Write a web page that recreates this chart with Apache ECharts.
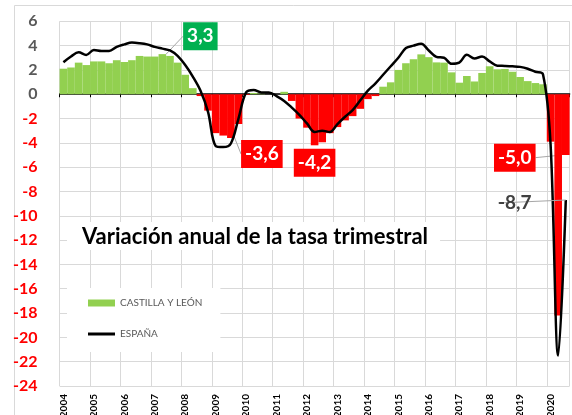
<!DOCTYPE html>
<html>
<head>
<meta charset="utf-8">
<script src="https://cdn.jsdelivr.net/npm/echarts@6/dist/echarts.min.js"></script>
<style>
  html, body { margin: 0; padding: 0; background: #fff; }
  #chart { width: 572px; height: 415px; }
</style>
</head>
<body>
<div id="chart"></div>
<script>
  // datos trimestrales 2004T1 - 2020T3
  var years = ['2004', '2005', '2006', '2007', '2008', '2009', '2010', '2011', '2012',
    '2013', '2014', '2015', '2016', '2017', '2018', '2019', '2020'];
  var quarters = ['T1', 'T2', 'T3', 'T4'];

  // Castilla y León (barras)
  var clyValues = [
    2.1, 2.2, 2.6, 2.4,
    2.7, 2.7, 2.55, 2.8,
    2.65, 2.8, 3.15, 3.1,
    3.1, 3.3, 3.15, 2.6,
    1.6, 0.5, -0.15, -1.35,
    -3.2, -3.4, -3.6, -2.45,
    -0.05, 0.1, 0.05, 0.0,
    0.0, 0.2, -0.55, -2.0,
    -2.75, -4.2, -3.95, -3.2,
    -2.7, -2.15, -1.8, -1.2,
    -0.4, -0.15, 0.62, 0.98,
    2.0, 2.55, 2.88, 3.28,
    3.05, 2.62, 2.6, 1.8,
    0.95, 1.5, 1.05, 1.75,
    2.3, 2.05, 2.08, 1.85,
    1.42, 1.08, 0.92, 0.82,
    -3.9, -18.2, -5.0
  ];

  // España (linea)
  var spainValues = [
    2.63, 3.1, 3.45, 3.23,
    3.64, 3.56, 3.56, 3.9,
    4.1, 4.25, 4.2, 4.1,
    3.9, 3.75, 3.6, 3.15,
    2.4, 1.45, 0.3, -1.45,
    -4.25, -4.35, -4.05, -2.0,
    0.15, 0.35, 0.15, 0.15,
    -0.15, -0.55, -1.1, -1.7,
    -2.4, -3.1, -3.0, -3.1,
    -2.45, -1.85, -1.3, -0.5,
    0.3, 0.9, 1.6, 2.3,
    3.0, 3.8, 4.0, 4.15,
    3.6, 3.07, 3.0, 2.5,
    2.6, 3.25, 2.95, 3.1,
    2.7, 2.35, 2.33, 2.3,
    2.25, 2.1, 1.85, 1.65,
    -4.1, -21.5, -8.7
  ];

  // eje Y: -24 .. 6 de 2 en 2
  var yMin = -24, yMax = 6, yStep = 2;

  var categories = [];
  years.forEach(function (y) {
    quarters.forEach(function (q) { categories.push(y + ' ' + q); });
  });
  categories = categories.slice(0, clyValues.length);

  var GREEN = '#92D050', RED = '#FF0000', GREY = '#595959';
  var FONT = 'Lato';

  function coma(v) { return v.toFixed(1).replace('.', ','); }

  // etiquetas destacadas (desplazamiento en px desde el centro de la barra)
  var barNotes = {
    13: { bg: '#00B050', dx: 38, dy: -38, line: true },
    22: { bg: RED, dx: 31, dy: 38, line: true },
    33: { bg: RED, dx: 0, dy: 43, line: false },
    66: { bg: RED, dx: -51, dy: 33, line: true }
  };
  var lineNotes = {
    66: { dx: -51, dy: 3 }
  };

  var barData = clyValues.map(function (v, i) {
    var n = barNotes[i];
    if (!n) return v;
    return {
      value: v,
      label: {
        show: true, position: 'inside', formatter: coma(v),
        backgroundColor: n.bg, color: '#fff', fontFamily: FONT,
        fontSize: 19, fontWeight: 'bold', padding: [5, 4, 4, 4]
      },
      labelLine: { show: n.line }
    };
  });

  var lineData = spainValues.map(function (v, i) {
    if (!lineNotes[i]) return v;
    return {
      value: v,
      label: {
        show: true, position: 'inside', formatter: coma(v),
        color: '#404040', fontFamily: FONT, fontSize: 19, fontWeight: 'bold'
      },
      labelLine: { show: true }
    };
  });

  var chart = echarts.init(document.getElementById('chart'));
  chart.setOption({
    animation: false,
    backgroundColor: '#fff',
    grid: { left: 59.6, right: 2.4, top: 21.3, bottom: 29, containLabel: false, outerBoundsMode: 'none' },
    title: {
      text: 'Variación anual de la tasa trimestral',
      left: 67, top: 222,
      padding: [3, 12, 2, 15],
      backgroundColor: '#fff',
      textStyle: { fontFamily: FONT, fontSize: 22, fontWeight: 'bold', color: '#000', lineHeight: 23 }
    },
    legend: {
      orient: 'vertical',
      left: 67, top: 288,
      padding: [10, 18, 13, 21],
      backgroundColor: '#fff',
      itemWidth: 27, itemHeight: 7, itemGap: 21,
      textStyle: { fontFamily: FONT, fontSize: 10, color: GREY },
      data: [
        { name: 'CASTILLA Y LEÓN', icon: 'rect', itemStyle: { color: GREEN } },
        { name: 'ESPAÑA', icon: 'path://M0,0H27V3H0Z', itemStyle: { color: '#000' } }
      ]
    },
    xAxis: [
      {
        // linea del cero con marcas
        type: 'category', data: categories, position: 'top',
        axisLine: { onZero: true, lineStyle: { color: '#000', width: 1.5 } },
        axisTick: { show: true, inside: true, length: 3, interval: 3, lineStyle: { color: '#000' } },
        axisLabel: { show: false },
        splitLine: { show: false }
      },
      {
        type: 'category', data: categories, position: 'bottom',
        axisLine: { show: false, onZero: false },
        axisTick: { show: false },
        axisLabel: {
          interval: 3, rotate: 90, margin: 8,
          fontFamily: FONT, fontSize: 10, fontWeight: 'bold', color: '#000',
          formatter: function (v) { return v.split(' ')[0]; }
        },
        splitLine: { show: true, interval: 3, lineStyle: { color: '#d9d9d9', width: 1 } }
      }
    ],
    yAxis: {
      type: 'value', min: yMin, max: yMax, interval: yStep,
      axisLine: { show: false }, axisTick: { show: false },
      axisLabel: {
        margin: 22, fontFamily: FONT, fontSize: 16, fontWeight: 'bold',
        color: function (v) { return Number(v) < 0 ? RED : GREY; }
      },
      splitLine: { lineStyle: { color: '#d9d9d9', width: 1 } }
    },
    graphic: [{
      type: 'rect', left: 12, top: 3, z: -10,
      shape: { width: 600, height: 450 },
      style: { fill: 'none', stroke: '#d9d9d9', lineWidth: 1 }
    }],
    series: [
      {
        name: 'CASTILLA Y LEÓN', type: 'bar', xAxisIndex: 0,
        barCategoryGap: '0%',
        data: barData,
        itemStyle: { color: function (p) { return p.value >= 0 ? GREEN : RED; } },
        labelLine: { show: true, lineStyle: { color: '#a6a6a6', width: 1 } },
        labelLayout: function (p) {
          var n = barNotes[p.dataIndex];
          return n ? { dx: n.dx, dy: n.dy } : {};
        },
        z: 2
      },
      {
        name: 'ESPAÑA', type: 'line', xAxisIndex: 0,
        data: lineData,
        smooth: 0.35,
        symbol: 'circle', symbolSize: 0, showAllSymbol: true,
        lineStyle: { color: '#000', width: 2.5 },
        itemStyle: { color: '#000' },
        labelLine: { show: true, lineStyle: { color: '#a6a6a6', width: 1 } },
        labelLayout: function (p) {
          var n = lineNotes[p.dataIndex];
          return n ? { dx: n.dx, dy: n.dy } : {};
        },
        z: 3
      }
    ]
  });
</script>
</body>
</html>
